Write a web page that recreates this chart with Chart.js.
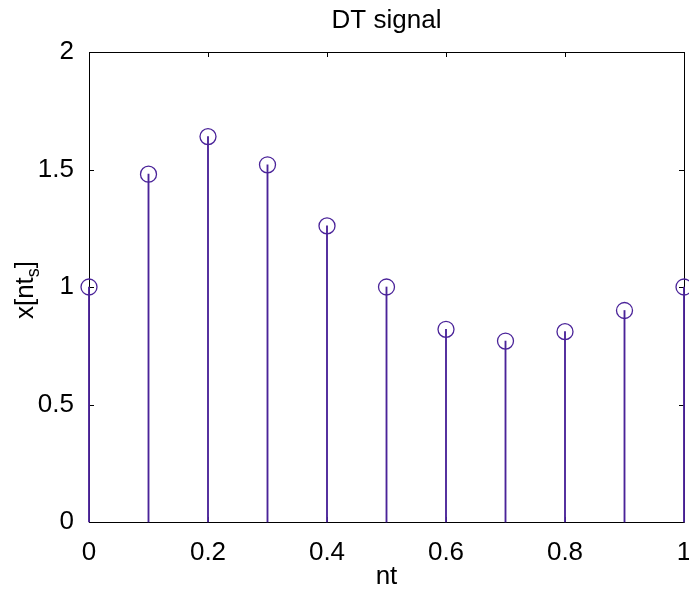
<!DOCTYPE html>
<html>
<head>
<meta charset="utf-8">
<script src="https://cdn.jsdelivr.net/npm/chart.js@4.4.0/dist/chart.umd.min.js"></script>
<style>
  html, body { margin: 0; padding: 0; background: #fff; }
  #wrap { width: 689px; height: 590px; }
</style>
</head>
<body>
<div id="wrap"><canvas id="stem" width="689" height="590"></canvas></div>
<script>
// sample times and signal values
const nt = [0, 0.1, 0.2, 0.3, 0.4, 0.5, 0.6, 0.7, 0.8, 0.9, 1.0];
const xs = [1.00, 1.48, 1.64, 1.52, 1.26, 1.00, 0.82, 0.77, 0.81, 0.90, 1.00];
const xTicks = [0, 0.2, 0.4, 0.6, 0.8, 1];
const yTicks = [0, 0.5, 1, 1.5, 2];

const stemColor = '#4a2399';
const FONT = '"Liberation Sans", Arial, Helvetica, sans-serif';
const FS = 26;

const points = nt.map((t, i) => ({ x: t, y: xs[i] }));

// MATLAB-like box with inward ticks, drawn under the stems
const boxPlugin = {
  id: 'box',
  beforeDatasetsDraw(chart) {
    const { ctx, chartArea: a, scales: { x, y } } = chart;
    ctx.save();
    ctx.strokeStyle = '#000';
    ctx.lineWidth = 1;
    ctx.beginPath();
    ctx.rect(a.left + 0.5, a.top + 0.5, a.right - a.left, a.bottom - a.top);
    xTicks.forEach(v => {
      const px = Math.round(x.getPixelForValue(v)) + 0.5;
      ctx.moveTo(px, a.bottom); ctx.lineTo(px, a.bottom - 5);
      ctx.moveTo(px, a.top); ctx.lineTo(px, a.top + 5);
    });
    yTicks.forEach(v => {
      const py = Math.round(y.getPixelForValue(v)) + 0.5;
      ctx.moveTo(a.left, py); ctx.lineTo(a.left + 5, py);
      ctx.moveTo(a.right, py); ctx.lineTo(a.right - 5, py);
    });
    ctx.stroke();
    ctx.restore();
  },
  afterDraw(chart) {
    // y label with subscript: x[nt_s]
    const { ctx, chartArea: a } = chart;
    const big = FS + 'px ' + FONT, small = '18px ' + FONT;
    ctx.save();
    ctx.fillStyle = '#000';
    ctx.translate(33, (a.top + a.bottom) / 2 + 3);
    ctx.rotate(-Math.PI / 2);
    ctx.textBaseline = 'alphabetic';
    ctx.font = small;
    const wS = ctx.measureText('s').width;
    ctx.font = big;
    const w1 = ctx.measureText('x[nt').width;
    const w3 = ctx.measureText(']').width;
    let cx = -(w1 + wS + w3) / 2;
    ctx.fillText('x[nt', cx, 0);
    cx += w1;
    ctx.font = small;
    ctx.fillText('s', cx, 6);
    cx += wS;
    ctx.font = big;
    ctx.fillText(']', cx, 0);
    ctx.restore();
  }
};

new Chart(document.getElementById('stem'), {
  type: 'bar',
  data: {
    datasets: [
      {
        type: 'scatter',
        data: points,
        pointStyle: 'circle',
        pointRadius: 8,
        pointHoverRadius: 8,
        borderColor: stemColor,
        backgroundColor: 'rgba(0,0,0,0)',
        borderWidth: 1.3,
        clip: false,
        order: 0
      },
      {
        type: 'bar',
        data: points,
        backgroundColor: stemColor,
        borderWidth: 0,
        barThickness: 1.2,
        clip: false,
        order: 1
      }
    ]
  },
  options: {
    responsive: false,
    animation: false,
    layout: { autoPadding: false, padding: { left: 0, right: 5, top: 0, bottom: 0 } },
    plugins: {
      legend: { display: false },
      tooltip: { enabled: false },
      title: {
        display: true,
        fullSize: false,
        text: 'DT signal',
        color: '#000',
        font: { family: FONT, size: FS, weight: 'normal' },
        padding: { top: 5.4, bottom: 15.4 }
      }
    },
    scales: {
      x: {
        type: 'linear',
        min: 0,
        max: 1,
        offset: false,
        grid: { display: false },
        border: { display: false },
        afterBuildTicks: s => { s.ticks = xTicks.map(v => ({ value: v })); },
        afterFit: s => { s.height = 68; s.paddingLeft = 0; s.paddingRight = 0; },
        ticks: {
          color: '#000',
          padding: 7,
          maxRotation: 0,
          autoSkip: false,
          font: { family: FONT, size: FS },
          callback: v => String(v)
        },
        title: {
          display: true,
          text: 'nt',
          color: '#000',
          font: { family: FONT, size: FS },
          padding: { top: 0, bottom: -2 }
        }
      },
      y: {
        type: 'linear',
        min: 0,
        max: 2,
        grid: { display: false },
        border: { display: false },
        afterBuildTicks: s => { s.ticks = yTicks.map(v => ({ value: v })); },
        afterFit: s => { s.width = 89; s.paddingTop = 0; s.paddingBottom = 0; },
        ticks: {
          color: '#000',
          padding: 7,
          autoSkip: false,
          font: { family: FONT, size: FS },
          callback: v => String(v)
        }
      }
    }
  },
  plugins: [boxPlugin]
});
</script>
</body>
</html>
